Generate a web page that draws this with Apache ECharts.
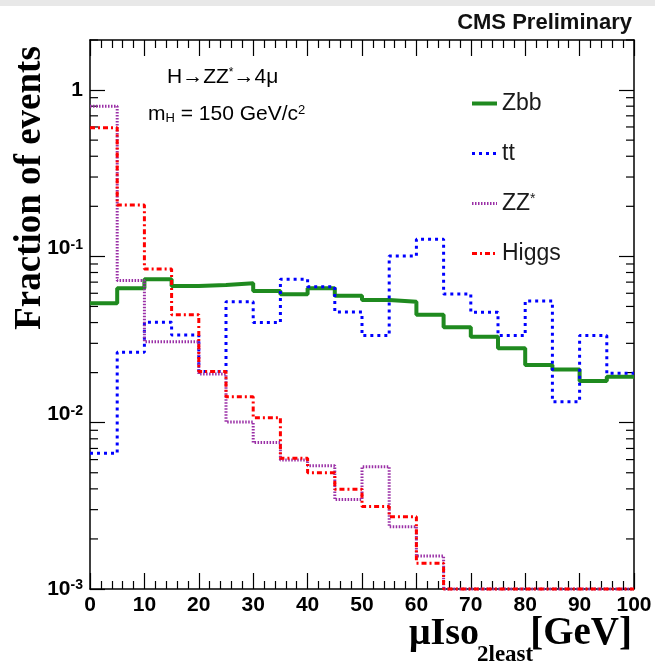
<!DOCTYPE html>
<html>
<head>
<meta charset="utf-8">
<script src="https://cdn.jsdelivr.net/npm/echarts@6/dist/echarts.min.js"></script>
<style>
html,body{margin:0;padding:0;background:#ffffff;}
#chart{width:655px;height:666px;}
</style>
</head>
<body>
<div id="chart"></div>
<script>
// ---- data ----
const binEdges = [0,5,10,15,20,25,30,35,40,45,50,55,60,65,70,75,80,85,90,95];
const binUpper = 100;
const zbb = [0.0523,0.0643,0.0728,0.0664,0.0673,0.0689,0.0619,0.0591,0.0643,0.0580,
             0.0547,0.0534,0.0445,0.0375,0.0329,0.0280,0.0222,0.0209,0.0178,0.0189];
const ttbar = [0.00655,0.0265,0.0402,0.0337,0.0203,0.0534,0.0400,0.0728,0.0657,0.0463,
               0.0334,0.1005,0.1267,0.0594,0.0461,0.0334,0.0539,0.01337,0.0334,0.0198];
const zzstar = [0.80,0.0715,0.0307,0.0307,0.0196,0.0101,0.00759,0.00597,0.00551,0.00345,
                0.00544,0.00237,0.00158,0,0,0,0,0,0,0];
const higgs = [0.594,0.204,0.0839,0.0445,0.0203,0.0143,0.0107,0.00611,0.00500,0.00398,
               0.00313,0.00272,0.00143,0,0,0,0,0,0,0];
const seriesNames = ['Zbb','tt','ZZ*','Higgs'];
const xTickValues = [0,10,20,30,40,50,60,70,80,90,100];
const yMajorTicks = [0.001,0.01,0.1,1];
const yTickLabels = ['10^-3','10^-2','10^-1','1'];

// ---- layout / styles ----
const Y_MIN = 0.001, Y_MAX = 2.0, X_MIN = 0, X_MAX = 100;
const SANS = '"Liberation Sans", Arial, sans-serif';
const SERIF = '"Liberation Serif", "Times New Roman", serif';

const yMinorTicks = [];
yMajorTicks.forEach(d => { for (let k = 2; k <= 9; k++) { const v = +(k * d).toPrecision(6); if (v <= Y_MAX) yMinorTicks.push(v); } });

function steps(vals) {
  const pts = binEdges.map((e, i) => [e, vals[i] > 0 ? vals[i] : Y_MIN]);
  pts.push([binUpper, pts[pts.length - 1][1]]);
  return pts;
}

const axisLine = { show: true, onZero: false, lineStyle: { color: '#000', width: 1.5 } };

function xAxisDef(pos, labels) {
  return {
    type: 'value', position: pos, min: X_MIN, max: X_MAX, interval: 10,
    axisLine: axisLine,
    axisTick: { show: true, inside: true, length: 16, lineStyle: { color: '#000', width: 1.2 } },
    minorTick: { show: true, splitNumber: 5, length: 8, lineStyle: { color: '#000', width: 1.2 } },
    splitLine: { show: false }, minorSplitLine: { show: false },
    axisLabel: labels ? {
      show: true, margin: 6, color: '#000', fontFamily: SANS, fontWeight: 'bold', fontSize: 21,
      customValues: xTickValues
    } : { show: false }
  };
}

function yLabelFmt(v) {
  const i = yMajorTicks.findIndex(t => Math.abs(t - v) / t < 1e-6);
  if (i < 0) return '';
  const lab = yTickLabels[i];
  if (lab.indexOf('^') < 0) return '{b|' + lab + '}';
  const parts = lab.split('^');
  return (i === 0 ? '{b|' : '{bu|') + parts[0] + '}{s|' + parts[1] + '}';
}

function yAxisDef(pos, labels) {
  return {
    type: 'log', logBase: 10, position: pos, min: Y_MIN, max: Y_MAX,
    axisLine: axisLine,
    axisTick: { show: true, inside: true, length: 15, customValues: yMajorTicks,
      lineStyle: { color: '#000', width: 1.2 } },
    minorTick: { show: false },
    splitLine: { show: false },
    axisLabel: labels ? {
      show: true, margin: 7, customValues: yMajorTicks, formatter: yLabelFmt,
      rich: {
        b: { fontFamily: SANS, fontWeight: 'bold', fontSize: 21, color: '#000' },
        bu: { fontFamily: SANS, fontWeight: 'bold', fontSize: 21, color: '#000', padding: [0, 0, 16, 0] },
        s: { fontFamily: SANS, fontWeight: 'bold', fontSize: 14, color: '#000', verticalAlign: 'top' }
      }
    } : { show: false }
  };
}

const colors = { 'Zbb': '#1f8a1f', 'tt': '#0000ff', 'ZZ*': '#9a2fa6', 'Higgs': '#ff0000' };
const lineStyles = {
  'Zbb': { width: 4, type: 'solid' },
  'tt': { width: 3, type: [3, 4] },
  'ZZ*': { width: 3, type: [1.5, 1.5] },
  'Higgs': { width: 3, type: [5, 3, 2, 3] }
};
const values = { 'Zbb': zbb, 'tt': ttbar, 'ZZ*': zzstar, 'Higgs': higgs };

const series = seriesNames.map((n, i) => ({
  name: n, type: 'line', step: 'end', symbol: 'none', clip: false,
  xAxisIndex: 0, yAxisIndex: 0, z: 3 + i,
  data: steps(values[n]),
  lineStyle: Object.assign({ color: colors[n], cap: 'butt' }, lineStyles[n]),
  itemStyle: { color: colors[n] }
}));

// minor log ticks on both vertical frame sides, placed through the axis scale
series.push({
  name: 'minorTicks', type: 'custom', xAxisIndex: 0, yAxisIndex: 0, silent: true, clip: false, z: 2,
  data: yMinorTicks.map(v => [X_MIN, v]),
  renderItem: function (params, api) {
    const v = api.value(1);
    const pl = api.coord([X_MIN, v]);
    const pr = api.coord([X_MAX, v]);
    const st = { stroke: '#000', lineWidth: 1.2 };
    return { type: 'group', children: [
      { type: 'line', shape: { x1: pl[0], y1: pl[1], x2: pl[0] + 8, y2: pl[1] }, style: st },
      { type: 'line', shape: { x1: pr[0] - 8, y1: pr[1], x2: pr[0], y2: pr[1] }, style: st }
    ] };
  }
});

const chart = echarts.init(document.getElementById('chart'), null, { renderer: 'canvas' });
chart.setOption({
  animation: false,
  backgroundColor: '#ffffff',
  grid: { left: 90, right: 21, top: 40, bottom: 77, containLabel: false },
  xAxis: [xAxisDef('bottom', true), xAxisDef('top', false)],
  yAxis: [yAxisDef('left', true), yAxisDef('right', false)],
  legend: {
    orient: 'vertical', left: 465, top: 87, itemWidth: 25, itemHeight: 24, itemGap: 27,
    selectedMode: false,
    lineStyle: { width: 'inherit' },
    textStyle: {
      fontFamily: SANS, fontSize: 23, color: '#1a1a1a',
      rich: {
        n: { fontFamily: SANS, fontSize: 23, color: '#1a1a1a' },
        s: { fontFamily: SANS, fontSize: 14, color: '#1a1a1a', verticalAlign: 'top' }
      }
    },
    formatter: name => name === 'ZZ*' ? '{n|ZZ}{s|*}' : name,
    data: seriesNames.map(n => ({ name: n,
      itemStyle: { opacity: 0 },
      lineStyle: Object.assign({ color: colors[n] }, lineStyles[n]) }))
  },
  graphic: [
    { type: 'rect', shape: { x: 0, y: 0, width: 655, height: 6 }, style: { fill: '#e8e8e8' }, silent: true },
    { type: 'text', style: { text: 'CMS Preliminary', x: 632, y: 23, align: 'right', verticalAlign: 'middle',
        font: 'bold 22px ' + SANS, fill: '#111' } },
    { type: 'text', x: 30, y: 188, rotation: Math.PI / 2,
      style: { text: 'Fraction of events', x: 0, y: 0, align: 'center', verticalAlign: 'middle',
        font: 'bold 37px ' + SERIF, fill: '#000' } },
    { type: 'text', style: { text: 'μIso', x: 479, y: 634, align: 'right', verticalAlign: 'middle',
        font: 'bold 38px ' + SERIF, fill: '#000' } },
    { type: 'text', style: { text: '2least', x: 477, y: 655, align: 'left', verticalAlign: 'middle',
        font: 'bold 23px ' + SERIF, fill: '#000' } },
    { type: 'text', style: { text: '[GeV]', x: 632, y: 634, align: 'right', verticalAlign: 'middle',
        font: 'bold 39px ' + SERIF, fill: '#000' } },
    { type: 'text', style: { text: '{t|H→ZZ}{s|*}{t|→4μ}', x: 167, y: 77, align: 'left', verticalAlign: 'middle',
        rich: { t: { fontFamily: SANS, fontSize: 21, color: '#111' },
                s: { fontFamily: SANS, fontSize: 12, color: '#111', verticalAlign: 'top' } } } },
    { type: 'text', style: { text: '{t|m}{u|H}{t| = 150 GeV/c}{s|2}', x: 148, y: 114, align: 'left', verticalAlign: 'middle',
        rich: { t: { fontFamily: SANS, fontSize: 21, color: '#111' },
                u: { fontFamily: SANS, fontSize: 13, color: '#111', verticalAlign: 'bottom' },
                s: { fontFamily: SANS, fontSize: 13, color: '#111', verticalAlign: 'top' } } } }
  ],
  series: series
});
</script>
</body>
</html>
